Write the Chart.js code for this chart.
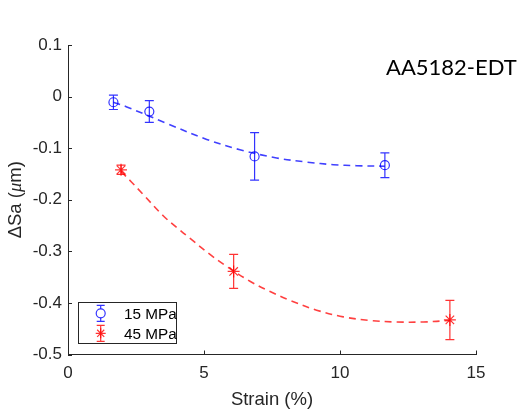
<!DOCTYPE html>
<html>
<head>
<meta charset="utf-8">
<script src="https://cdn.jsdelivr.net/npm/chart.js@4.4.0/dist/chart.umd.min.js"></script>
<style>
html, body { margin: 0; padding: 0; background: #fff; }
#wrap { width: 519px; height: 412px; position: relative; }
</style>
</head>
<body>
<div id="wrap"><canvas id="saChart" width="519" height="412"></canvas></div>
<script>
// measured points, Strain (%) vs ΔSa (µm)
const strain15 = [1.67, 2.99, 6.86, 11.65];
const sa15 = [-0.011, -0.029, -0.116, -0.133];
const err15 = [0.014, 0.021, 0.046, 0.024];

const strain45 = [1.95, 6.09, 14.04];
const sa45 = [-0.142, -0.339, -0.433];
const err45 = [0.009, 0.033, 0.038];

// dashed fit curves
const fitX15 = [1.67, 2.16, 3.63, 5.10, 6.32, 7.67, 8.78, 9.76, 10.61, 11.65];
const fitY15 = [-0.011, -0.020, -0.052, -0.083, -0.103, -0.119, -0.127, -0.132, -0.134, -0.135];

const fitX45 = [1.95, 2.34, 2.77, 3.50, 4.00, 4.49, 5.22, 5.77, 6.69, 7.43, 8.16, 9.14, 10.12, 11.10, 12.08, 13.06, 14.04];
const fitY45 = [-0.145, -0.166, -0.190, -0.231, -0.254, -0.275, -0.306, -0.327, -0.358, -0.378, -0.395, -0.414, -0.427, -0.434, -0.437, -0.437, -0.434];

const legendLabels = ['15 MPa', '45 MPa'];
const annotationText = 'AA5182-EDT';

const axisColor = '#262626';
const tickFont = { family: '"Liberation Sans", Arial, sans-serif', size: 17 };

const toPoints = (xs, ys) => xs.map((x, i) => ({ x: x, y: ys[i] }));

// error bars + inward ticks + legend + y label + annotation
const extrasPlugin = {
    id: 'extras',
    afterDatasetsDraw(chart) {
        const ctx = chart.ctx;
        const xs = chart.scales.x, ys = chart.scales.y;
        chart.data.datasets.forEach((ds) => {
            if (!ds.errors) return;
            ctx.save();
            ctx.strokeStyle = ds.borderColor;
            ctx.lineWidth = 1.2;
            ds.data.forEach((p, i) => {
                const px = xs.getPixelForValue(p.x);
                const top = ys.getPixelForValue(p.y + ds.errors[i]);
                const bot = ys.getPixelForValue(p.y - ds.errors[i]);
                ctx.beginPath();
                ctx.moveTo(px, top); ctx.lineTo(px, bot);
                ctx.moveTo(px - 4.5, top); ctx.lineTo(px + 4.5, top);
                ctx.moveTo(px - 4.5, bot); ctx.lineTo(px + 4.5, bot);
                ctx.stroke();
            });
            ctx.restore();
        });
    },
    afterDraw(chart) {
        const ctx = chart.ctx;
        const area = chart.chartArea;
        const xs = chart.scales.x, ys = chart.scales.y;
        ctx.save();
        // inward ticks
        ctx.strokeStyle = axisColor;
        ctx.lineWidth = 1;
        ctx.beginPath();
        xs.ticks.forEach((t) => {
            const px = Math.round(xs.getPixelForValue(t.value)) + 0.5;
            ctx.moveTo(px, area.bottom); ctx.lineTo(px, area.bottom - 4);
        });
        ys.ticks.forEach((t) => {
            const py = Math.round(ys.getPixelForValue(t.value)) + 0.5;
            ctx.moveTo(area.left, py); ctx.lineTo(area.left + 4, py);
        });
        ctx.stroke();

        // y axis label with italic mu
        ctx.save();
        ctx.translate(16, (area.top + area.bottom) / 2);
        ctx.rotate(-Math.PI / 2);
        ctx.fillStyle = axisColor;
        ctx.textBaseline = 'middle';
        const f1 = '18.5px "Liberation Sans", Arial, sans-serif';
        const f2 = 'italic 18.5px "Liberation Serif", serif';
        const parts = [['\u0394Sa (', f1], ['\u03bc', f2], ['m)', f1]];
        let total = 0;
        parts.forEach(([s, f]) => { ctx.font = f; total += ctx.measureText(s).width; });
        let cx = -total / 2;
        ctx.textAlign = 'left';
        parts.forEach(([s, f]) => { ctx.font = f; ctx.fillText(s, cx, 0); cx += ctx.measureText(s).width; });
        ctx.restore();

        // legend
        const lx = 78.5, ly = 302.5, lw = 98, lh = 41;
        ctx.fillStyle = '#fff';
        ctx.fillRect(lx, ly, lw, lh);
        ctx.strokeStyle = axisColor;
        ctx.lineWidth = 1;
        ctx.strokeRect(lx, ly, lw, lh);
        const colors = ['rgba(0,0,255,0.8)', 'rgba(255,0,0,0.8)'];
        legendLabels.forEach((label, i) => {
            const cy = 313.3 + i * 20;
            const ix = 100.7;
            ctx.strokeStyle = colors[i];
            ctx.lineWidth = 1.2;
            ctx.beginPath();
            ctx.moveTo(ix, cy - 8); ctx.lineTo(ix, cy + 8);
            ctx.moveTo(ix - 4, cy - 8); ctx.lineTo(ix + 4, cy - 8);
            ctx.moveTo(ix - 4, cy + 8); ctx.lineTo(ix + 4, cy + 8);
            ctx.stroke();
            Chart.helpers.drawPoint(ctx, {
                pointStyle: i === 0 ? 'circle' : 'star',
                radius: i === 0 ? 4.5 : 5,
                borderWidth: 1
            }, ix, cy);
            ctx.fillStyle = '#000';
            ctx.font = '15.3px "Liberation Sans", Arial, sans-serif';
            ctx.textAlign = 'left';
            ctx.textBaseline = 'middle';
            ctx.fillText(label, 124, cy + 1);
        });

        // annotation
        ctx.fillStyle = '#000';
        ctx.font = '22px Lato, "Open Sans", sans-serif';
        ctx.textAlign = 'left';
        ctx.textBaseline = 'alphabetic';
        ctx.fillText(annotationText, 386, 75);
        ctx.restore();
    }
};

const ctx = document.getElementById('saChart').getContext('2d');
window.saChart = new Chart(ctx, {
    type: 'scatter',
    data: {
        datasets: [
            {
                label: legendLabels[0],
                data: toPoints(strain15, sa15),
                errors: err15,
                pointStyle: 'circle',
                pointRadius: 4.5,
                borderColor: 'rgba(0,0,255,0.8)',
                backgroundColor: 'rgba(0,0,0,0)',
                borderWidth: 1.2,
                order: 1
            },
            {
                label: legendLabels[1],
                data: toPoints(strain45, sa45),
                errors: err45,
                pointStyle: 'star',
                pointRadius: 6,
                borderColor: 'rgba(255,0,0,0.8)',
                backgroundColor: 'rgba(0,0,0,0)',
                borderWidth: 1.2,
                order: 1
            },
            {
                type: 'line',
                label: 'fit 15',
                data: toPoints(fitX15, fitY15),
                borderColor: 'rgba(0,0,255,0.75)',
                borderWidth: 1.6,
                borderDash: [7, 5],
                pointRadius: 0,
                tension: 0.35,
                fill: false,
                order: 2
            },
            {
                type: 'line',
                label: 'fit 45',
                data: toPoints(fitX45, fitY45),
                borderColor: 'rgba(255,0,0,0.75)',
                borderWidth: 1.6,
                borderDash: [7, 5],
                pointRadius: 0,
                tension: 0.35,
                fill: false,
                order: 2
            }
        ]
    },
    options: {
        responsive: false,
        animation: false,
        layout: { padding: { left: 0, top: 45, right: 43, bottom: 0 } },
        plugins: {
            legend: { display: false },
            tooltip: { enabled: false }
        },
        scales: {
            x: {
                type: 'linear',
                min: 0,
                max: 15,
                grid: { display: false, drawTicks: false },
                border: { color: axisColor, width: 1 },
                ticks: { stepSize: 5, color: axisColor, font: tickFont, padding: 9, maxRotation: 0 },
                title: {
                    display: true,
                    text: 'Strain (%)',
                    color: axisColor,
                    font: { family: '"Liberation Sans", Arial, sans-serif', size: 18.5 },
                    padding: { top: 0, bottom: 1 }
                },
                afterFit: (s) => { s.height = 57.5; }
            },
            y: {
                type: 'linear',
                min: -0.5,
                max: 0.1,
                grid: { display: false, drawTicks: false },
                border: { color: axisColor, width: 1 },
                ticks: {
                    stepSize: 0.1,
                    color: axisColor,
                    font: tickFont,
                    padding: 6,
                    callback: (v) => {
                        const r = Math.round(v * 10) / 10;
                        return r === 0 ? '0' : String(r);
                    }
                },
                afterFit: (s) => { s.width = 68; }
            }
        }
    },
    plugins: [extrasPlugin]
});
</script>
</body>
</html>
